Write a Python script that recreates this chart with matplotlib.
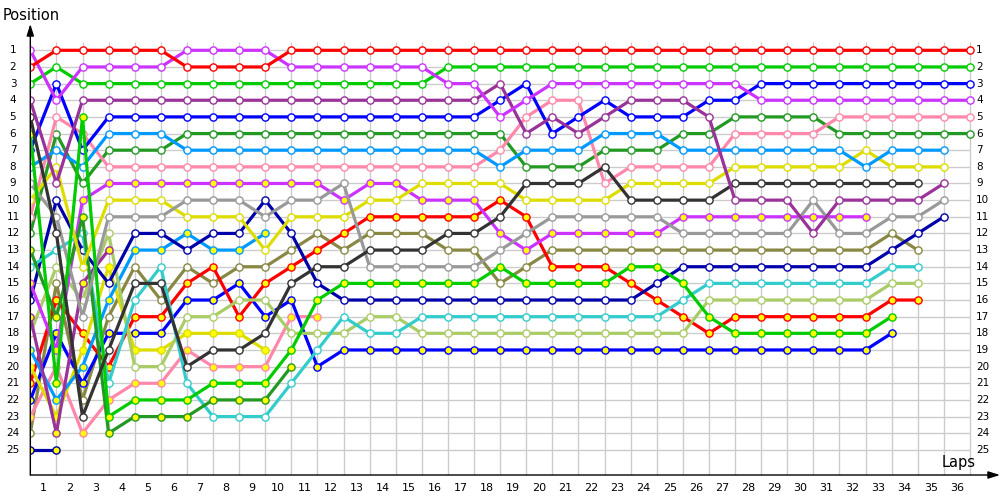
import matplotlib
matplotlib.use("Agg")
import matplotlib.pyplot as plt

# ---------------- data (position per lap, lap 0 = grid) ----------------
laps = list(range(0, 37))
lap_labels = [str(i) for i in range(1, 37)]
pos_labels = [str(i) for i in range(1, 26)]

red_w = [2,1,1,1,1,1,2,2,2,2,1,1,1,1,1,1,1,1,1,1,1,1,1,1,1,1,1,1,1,1,1,1,1,1,1,1,1]
violet_w = [1,4,2,2,2,2,1,1,1,1,2,2,2,2,2,2,3,3,5,4,3,3,3,3,3,3,3,3,4,4,4,4,4,4,4,4,4]
green_w = [3,2,3,3,3,3,3,3,3,3,3,3,3,3,3,3,2,2,2,2,2,2,2,2,2,2,2,2,2,2,2,2,2,2,2,2,2]
dkpurple_w = [4,9,4,4,4,4,4,4,4,4,4,4,4,4,4,4,4,4,3,6,5,6,5,4,4,4,5,10,10,10,12,10,10,10,10,9]
black_w = [5,12,23,19,15,15,20,19,19,18,15,14,14,13,13,13,12,12,11,9,9,9,8,10,10,10,10,9,9,9,9,9,9,9,9]
green_y = [6,21,5,23,22,22,22,21,21,21,19,16,15,15,15,15,15,15,14,15,15,15,15,14,14,15,17,18,18,18,18,18,18,17]
blue_w = [7,3,7,5,5,5,5,5,5,5,5,5,5,5,5,5,5,5,4,3,6,5,4,5,5,5,4,4,3,3,3,3,3,3,3,3,3]
lightblue_w = [8,7,8,6,6,6,7,7,7,7,7,7,7,7,7,7,7,7,8,7,7,7,6,6,6,7,7,7,7,7,7,7,8,7,7,7]
gray_w = [9,11,17,11,11,11,10,10,10,11,10,10,9,14,14,14,14,14,13,12,11,11,11,11,11,12,12,12,12,12,10,12,12,11,11,10]
yellow_w = [10,8,14,10,10,10,11,11,11,13,11,11,11,10,10,9,9,9,9,10,10,10,10,9,9,9,9,8,8,8,8,8,7,8,8,8]
pink_w = [11,5,6,8,8,8,8,8,8,8,8,8,8,8,8,8,8,8,7,5,4,4,9,8,8,8,8,6,6,6,6,5,5,5,5,5,5]
dkgreen_w = [12,6,9,7,7,7,6,6,6,6,6,6,6,6,6,6,6,6,6,8,8,8,7,7,7,6,6,5,5,5,5,6,6,6,6,6,6]
dkgreen_y = [13,17,11,24,23,23,23,22,22,22,20]
cyan_w = [14,13,12,21,16,14,21,23,23,23,21,19,17,18,18,17,17,17,17,17,17,17,17,17,17,16,15,15,15,15,15,15,15,14,14]
violet_y = [15,19,10,9,9,9,9,9,9,9,9,9,10,9,9,10,10,10,12,13,12,12,12,12,12,11,11,11,11,11,11,11,11]
navy_w = [16,10,13,15,12,12,13,12,12,10,12,15,16,16,16,16,16,16,16,16,16,16,16,16,15,14,14,14,14,14,14,14,14,13,12,11]
dkpurple_y = [17,24,15,13]
lgreen_w = [18,14,16,12,20,20,17,17,16,16,18,18,18,17,17,18,18,18,18,18,18,18,18,18,18,18,16,16,16,16,16,16,16,15,15]
lightblue_y = [19,22,20,16,13,13,12,13,13,12]
yellow_y = [20,23,19,14,19,19,18,18,18,19]
red_y = [21,16,18,20,17,17,15,14,17,15,14,13,12,11,11,11,11,11,10,11,14,14,14,15,16,17,18,17,17,17,17,17,17,16,16]
blue_y = [22,18,21,18,18,18,16,16,15,17,16,20,19,19,19,19,19,19,19,19,19,19,19,19,19,19,19,19,19,19,19,19,19,18]
pink_y = [23,20,24,22,21,21,19,20,20,20,17,17]
olive_w = [24,15,22,17,14,16,14,15,14,14,13,12,13,12,12,12,13,13,15,14,13,13,13,13,13,13,13,13,13,13,13,13,13,12,13]
navy_y = [25,25]

# ---------------- styles ----------------
series = [
    (navy_y, '#0000AA', True), (olive_w, '#888844', False), (pink_y, '#FF88AA', True),
    (blue_y, '#0000FF', True), (red_y, '#FF0000', True), (yellow_y, '#DDDD00', True),
    (lightblue_y, '#0099FF', True), (lgreen_w, '#AACC66', False), (dkpurple_y, '#993399', True),
    (navy_w, '#0000AA', False), (violet_y, '#CC33FF', True), (cyan_w, '#33CCCC', False),
    (dkgreen_y, '#229922', True), (dkgreen_w, '#229922', False), (pink_w, '#FF88AA', False),
    (yellow_w, '#DDDD00', False), (gray_w, '#999999', False), (lightblue_w, '#0099FF', False),
    (blue_w, '#0000FF', False), (green_y, '#00CC00', True), (black_w, '#333333', False),
    (dkpurple_w, '#993399', False), (green_w, '#00CC00', False), (violet_w, '#CC33FF', False),
    (red_w, '#FF0000', False),
]

fig = plt.figure(figsize=(10, 5), dpi=100)
px = 26.1          # pixels per lap
left_px = 30.3
ax = fig.add_axes([left_px / 1000, 0.05, 1 - left_px / 1000, 0.902])
xmax = (1000 - left_px) / px
ax.set_xlim(0, xmax)
ax.set_ylim(26.51, -0.58)
ax.axis('off')

grid_c = '#CCCCCC'
ax.vlines(laps, 0.5, 26.51, color=grid_c, lw=1, zorder=1)
ax.hlines(range(1, 26), 0, laps[-1], color=grid_c, lw=1, zorder=1)

for i, (vals, col, yfill) in enumerate(series):
    ax.plot(laps[:len(vals)], vals, color=col, lw=2.3, marker='o', ms=5.2,
            mfc='#FFFF00' if yfill else 'white', mec=col, mew=1.0,
            zorder=3 + i * 0.01, solid_joinstyle='round')

# axes with arrows
ax.annotate('', xy=(0, -0.58), xytext=(0, 26.51), xycoords='data',
            arrowprops=dict(arrowstyle='-|>,head_length=0.7,head_width=0.22',
                            color='black', lw=1, shrinkA=0, shrinkB=0),
            annotation_clip=False, zorder=6)
ax.annotate('', xy=(xmax, 26.51), xytext=(0, 26.51), xycoords='data',
            arrowprops=dict(arrowstyle='-|>,head_length=0.7,head_width=0.22',
                            color='black', lw=1, shrinkA=0, shrinkB=0),
            annotation_clip=False, zorder=6)

fs = 7.5
for k, lab in enumerate(pos_labels):
    p = k + 1
    ax.text((13 - left_px) / px, p, lab, ha='center', va='center', fontsize=fs,
            color='black', clip_on=False)
    ax.text((976 - left_px) / px, p, lab, ha='left', va='center', fontsize=fs,
            color='black', clip_on=False)
for k, lab in enumerate(lap_labels):
    ax.text(k + 0.5, 27.29, lab, ha='center', va='center', fontsize=8,
            color='black', clip_on=False)

fig.text(0.003, 1 - 15 / 500, 'Position', ha='left', va='center', fontsize=10.5)
fig.text(0.959, 1 - 463 / 500, 'Laps', ha='center', va='center', fontsize=10.5)

fig.savefig('out.png', dpi=100)
